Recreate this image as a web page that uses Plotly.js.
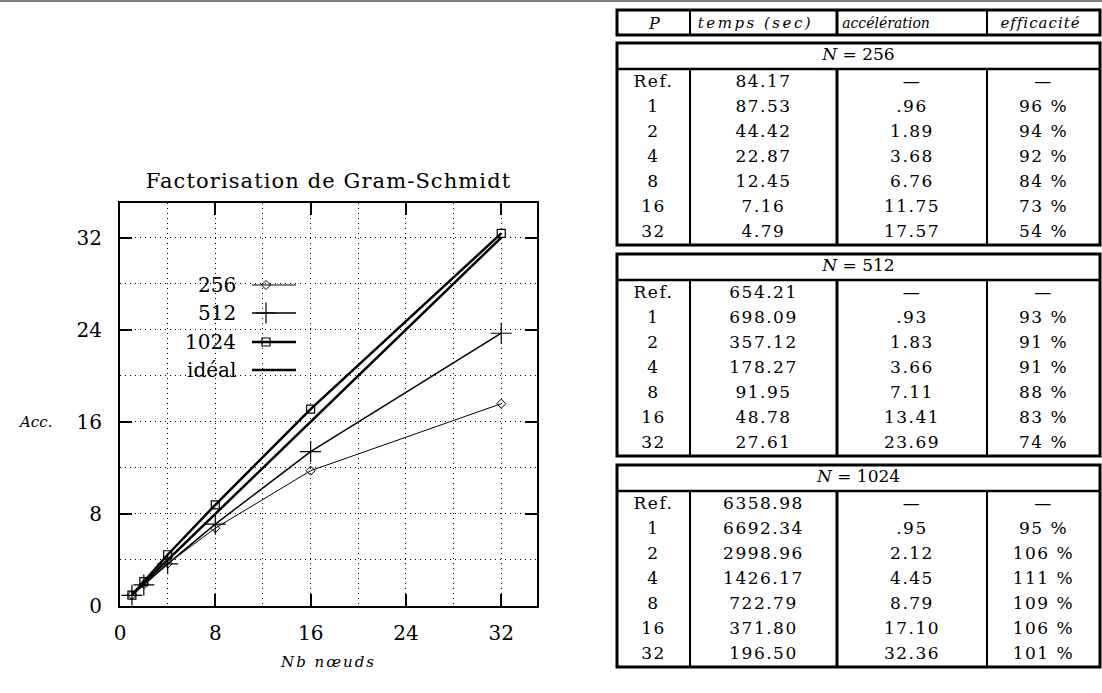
<!DOCTYPE html>
<html><head><meta charset="utf-8">
<script src="https://cdn.plot.ly/plotly-3.0.1.min.js"></script>
<style>html,body{margin:0;padding:0;background:#fff;}#chart{width:1102px;height:693px;}
.gtitle{letter-spacing:1.1px;}
.xtitle{letter-spacing:2px;}
[class*="tracetblcells"] .textpoint text{letter-spacing:1.5px;}
.tracetblhead .textpoint:nth-child(2) text{letter-spacing:2.5px;}
.tracetblhead .textpoint:nth-child(4) text{letter-spacing:1px;}
</style>
</head><body><div id="chart"></div>
<script>
// ---------- data ----------
const nodes   = [1, 2, 4, 8, 16, 32];
const acc256  = [0.96, 1.89, 3.68, 6.76, 11.75, 17.57];
const acc512  = [0.93, 1.83, 3.66, 7.11, 13.41, 23.69];
const acc1024 = [0.95, 2.12, 4.45, 8.79, 17.10, 32.36];
const ideal   = [1, 2, 4, 8, 16, 32];
const seriesNames = ['256', '512', '1024', 'idéal'];

const tableColumns = ['<i>P</i>', '<i>temps (sec)</i>', '<i>accélération</i>', '<i>efficacité</i>'];
const rowLabels = ['Ref.', '1', '2', '4', '8', '16', '32'];
const sectionN = ['256', '512', '1024'];
const time256  = ['84.17', '87.53', '44.42', '22.87', '12.45', '7.16', '4.79'];
const accel256 = ['—', '.96', '1.89', '3.68', '6.76', '11.75', '17.57'];
const eff256   = ['—', '96 %', '94 %', '92 %', '84 %', '73 %', '54 %'];
const time512  = ['654.21', '698.09', '357.12', '178.27', '91.95', '48.78', '27.61'];
const accel512 = ['—', '.93', '1.83', '3.66', '7.11', '13.41', '23.69'];
const eff512   = ['—', '93 %', '91 %', '91 %', '88 %', '83 %', '74 %'];
const time1024  = ['6358.98', '6692.34', '2998.96', '1426.17', '722.79', '371.80', '196.50'];
const accel1024 = ['—', '.95', '2.12', '4.45', '8.79', '17.10', '32.36'];
const eff1024   = ['—', '95 %', '106 %', '111 %', '109 %', '106 %', '101 %'];

// ---------- layout constants ----------
const W = 1102, H = 693;
const fx = p => p / W, fy = p => 1 - p / H;
const SERIF = 'DejaVu Serif, Liberation Serif, serif';
const plotBox = {l: 120, r: 537, t: 203, b: 606};
const colEdges = [617, 690, 837, 987, 1100];
const colCenters = colEdges.slice(0, -1).map((e, i) => (e + colEdges[i + 1]) / 2);
const headOffsets = [1, -8, -26, -3];
const headSizes = [16, 15, 14, 15];
const headShift = 2;
const divWidths = [2, 3, 2];
const headerBox = {t: 10, b: 35};
const secTops = [43, 254, 465];
const nRowH = 26, rowH = 25, secH = 202, rowShift = 1;
const legendRows = [285, 313, 342, 370];
const legendTextRight = 238, legendLine = [252, 296], legendMark = 266;

const styles = [
  {lw: 1,   sym: 'diamond-open',    size: 7,  mlw: 1},
  {lw: 1.5, sym: 'cross-thin-open', size: 15, mlw: 1.2},
  {lw: 2.5, sym: 'square-open',     size: 8,  mlw: 1.2},
  {lw: 2.5, sym: null}
];
const seriesY = [acc256, acc512, acc1024, ideal];

const traces = [];
seriesY.forEach((ys, i) => {
  const st = styles[i];
  const t = {
    type: 'scatter', x: nodes, y: ys, name: seriesNames[i],
    mode: st.sym ? 'lines+markers' : 'lines',
    line: {color: '#000', width: st.lw},
    xaxis: 'x', yaxis: 'y', showlegend: false, cliponaxis: false
  };
  if (st.sym) t.marker = {symbol: st.sym, size: st.size, color: '#000', line: {color: '#000', width: st.mlw}};
  traces.push(t);
});
// legend samples (text left, sample right as in reference)
seriesNames.forEach((n, i) => {
  const st = styles[i];
  const ry = legendRows[i];
  traces.push({type: 'scatter', x: legendLine, y: [ry, ry], mode: 'lines',
    line: {color: '#000', width: st.lw}, xaxis: 'x2', yaxis: 'y2', showlegend: false, hoverinfo: 'skip'});
  if (st.sym) traces.push({type: 'scatter', x: [legendMark], y: [ry], mode: 'markers',
    marker: {symbol: st.sym, size: st.size, color: '#000', line: {color: '#000', width: st.mlw}},
    xaxis: 'x2', yaxis: 'y2', showlegend: false, hoverinfo: 'skip', cliponaxis: false});
});

// ---------- table (cell texts on a pixel-scaled helper axis) ----------
function textTrace(xs, ys, texts, size, uid) {
  const t = {type: 'scatter', mode: 'text', x: xs, y: ys, text: texts, textposition: 'middle center',
    textfont: {family: SERIF, size: size, color: '#000'}, xaxis: 'x2', yaxis: 'y2',
    showlegend: false, hoverinfo: 'skip', cliponaxis: false};
  if (uid) t.uid = uid;
  return t;
}
traces.push(textTrace(colCenters.map((c, i) => c + headOffsets[i]),
  colCenters.map(() => (headerBox.t + headerBox.b) / 2 + headShift), tableColumns, headSizes, 'tblhead'));
const sectionData = [
  [rowLabels, time256, accel256, eff256],
  [rowLabels, time512, accel512, eff512],
  [rowLabels, time1024, accel1024, eff1024]
];
secTops.forEach((T, s) => {
  traces.push(textTrace([(colEdges[0] + colEdges[4]) / 2], [T + nRowH / 2], ['<i>N</i> = ' + sectionN[s]], 17, 'tblsec' + s));
  const xs = [], ys = [], tx = [];
  sectionData[s].forEach((col, c) => col.forEach((v, r) => {
    xs.push(colCenters[c]); ys.push(T + nRowH + rowH * (r + 0.5) + rowShift); tx.push(v);
  }));
  traces.push(textTrace(xs, ys, tx, 17, 'tblcells' + s));
});

// table borders
const shapes = [];
const L = (x0, y0, x1, y1, w) => shapes.push({type: 'line', xref: 'paper', yref: 'paper',
  x0: fx(x0), y0: fy(y0), x1: fx(x1), y1: fy(y1), line: {color: '#000', width: w}});
const R = (x0, y0, x1, y1, w) => shapes.push({type: 'rect', xref: 'paper', yref: 'paper',
  x0: fx(x0), y0: fy(y0), x1: fx(x1), y1: fy(y1), line: {color: '#000', width: w}});
L(0, 1, W, 1, 1.2);
R(colEdges[0], headerBox.t, colEdges[4], headerBox.b, 3);
for (let k = 1; k < 4; k++) L(colEdges[k], headerBox.t, colEdges[k], headerBox.b, divWidths[k - 1]);
secTops.forEach(T => {
  R(colEdges[0], T, colEdges[4], T + secH, 3);
  L(colEdges[0], T + nRowH, colEdges[4], T + nRowH, 2.5);
  for (let k = 1; k < 4; k++) L(colEdges[k], T + nRowH, colEdges[k], T + secH, divWidths[k - 1]);
});

const annotations = seriesNames.map((n, i) => ({
  xref: 'paper', yref: 'paper', x: fx(legendTextRight), y: fy(legendRows[i]),
  xanchor: 'right', yanchor: 'middle', text: n, showarrow: false,
  font: {family: SERIF, size: 20, color: '#000'}
}));
annotations.push({xref: 'paper', yref: 'paper', x: fx(35), y: fy(422), xanchor: 'center', yanchor: 'middle',
  text: '<i>Acc.</i>', showarrow: false, font: {family: SERIF, size: 15, color: '#000'}});

const axisCommon = {
  range: [0, 35], dtick: 8, tick0: 0, ticks: 'inside', ticklen: 12, tickwidth: 2, tickcolor: '#000',
  showline: true, linewidth: 2, linecolor: '#000', mirror: 'ticks',
  showgrid: true, gridcolor: '#000', gridwidth: 1, griddash: '1px,4px', zeroline: false,
  minor: {dtick: 4, tick0: 0, showgrid: true, gridcolor: '#000', gridwidth: 1, griddash: '1px,4px', ticks: ''},
  tickfont: {family: SERIF, size: 20, color: '#000'}, fixedrange: true
};

const layout = {
  width: W, height: H, margin: {l: 0, r: 0, t: 0, b: 0},
  paper_bgcolor: '#fff', plot_bgcolor: 'rgba(0,0,0,0)', showlegend: false,
  title: {text: 'Factorisation de Gram-Schmidt', font: {family: SERIF, size: 21, color: '#000'},
    x: fx((plotBox.l + plotBox.r) / 2), xanchor: 'center', xref: 'paper',
    y: fy(181), yanchor: 'middle', yref: 'paper'},
  xaxis: Object.assign({}, axisCommon, {domain: [fx(plotBox.l), fx(plotBox.r)], anchor: 'y', ticklabelstandoff: 8,
    title: {text: '<i>Nb nœuds</i>', font: {family: SERIF, size: 15, color: '#000'}, standoff: 12}}),
  yaxis: Object.assign({}, axisCommon, {domain: [fy(plotBox.b), fy(plotBox.t)], anchor: 'x', ticklabelstandoff: 12}),
  xaxis2: {domain: [0, 1], range: [0, W], visible: false, anchor: 'y2', fixedrange: true},
  yaxis2: {domain: [0, 1], range: [H, 0], visible: false, anchor: 'x2', fixedrange: true},
  shapes: shapes, annotations: annotations
};

Plotly.newPlot('chart', traces, layout, {displayModeBar: false, staticPlot: true});
</script></body></html>
